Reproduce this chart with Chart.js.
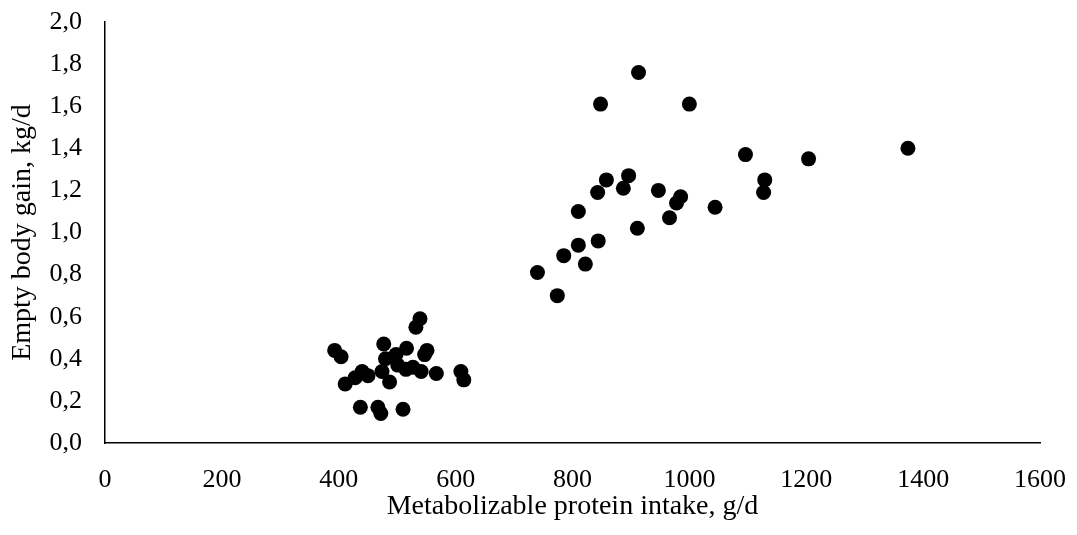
<!DOCTYPE html>
<html>
<head>
<meta charset="utf-8">
<script src="https://cdn.jsdelivr.net/npm/chart.js@4"></script>
<style>
    html, body { margin: 0; padding: 0; background: #fff; }
    #wrap { width: 1077px; height: 535px; position: relative; }
</style>
</head>
<body>
<div id="wrap"><canvas id="scatter"></canvas></div>
<script>
// metabolizable protein intake (g/d) and empty body gain (kg/d)
const mpIntake = [
    393, 404, 411, 428, 437, 440, 450, 467, 472, 474,
    477, 480, 487, 498, 501, 510, 516, 515, 527, 532,
    539, 541, 547, 551, 567, 609, 614,
    913, 848, 1000, 858, 896, 887, 843, 947, 985, 978,
    1044, 810, 966, 911, 844, 810, 785, 822, 740, 774,
    1096, 1204, 1374, 1129, 1127,
]
const ebGain = [
    0.44, 0.41, 0.28, 0.31, 0.17, 0.34, 0.32, 0.17, 0.14, 0.34,
    0.47, 0.40, 0.29, 0.42, 0.37, 0.16, 0.45, 0.35, 0.36, 0.55,
    0.59, 0.34, 0.42, 0.44, 0.33, 0.34, 0.30,
    1.76, 1.61, 1.61, 1.25, 1.27, 1.21, 1.19, 1.20, 1.17, 1.14,
    1.12, 1.10, 1.07, 1.02, 0.96, 0.94, 0.89, 0.85, 0.81, 0.70,
    1.37, 1.35, 1.40, 1.25, 1.19,
]

const xTicks = [0, 200, 400, 600, 800, 1000, 1200, 1400, 1600]
const yTicks = [0, 0.2, 0.4, 0.6, 0.8, 1.0, 1.2, 1.4, 1.6, 1.8, 2.0]

const xTitle = 'Metabolizable protein intake, g/d'
const yTitle = 'Empty body gain, kg/d'

const FONT = '"Liberation Serif", "Times New Roman", serif'

const points = mpIntake.map((x, i) => ({ x, y: ebGain[i] }))

new Chart(document.getElementById('scatter'), {
    type: 'scatter',
    data: {
        datasets: [{
            data: points,
            backgroundColor: '#000',
            borderWidth: 0,
            pointRadius: 7.5,
            pointHoverRadius: 7.5,
        }]
    },
    options: {
        responsive: true,
        maintainAspectRatio: false,
        animation: false,
        layout: { padding: { left: 0, top: 22, right: 37, bottom: 0 } },
        plugins: {
            legend: { display: false },
            tooltip: { enabled: false },
        },
        scales: {
            x: {
                type: 'linear',
                min: xTicks[0],
                max: xTicks[xTicks.length - 1],
                afterBuildTicks: s => { s.ticks = xTicks.map(v => ({ value: v })) },
                // pin the plot box, labels may spill into the margins
                afterFit: s => { s.height = 92; s.paddingLeft = 0; s.paddingRight = 0 },
                grid: { display: false, drawTicks: false },
                border: { display: true, color: '#000', width: 1.5 },
                ticks: {
                    color: '#000',
                    font: { family: FONT, size: 26 },
                    padding: 22,
                    maxRotation: 0,
                    callback: v => String(v),
                },
                title: {
                    display: true,
                    text: xTitle,
                    color: '#000',
                    font: { family: FONT, size: 28 },
                    padding: { top: 0, bottom: 12 },
                },
            },
            y: {
                type: 'linear',
                min: yTicks[0],
                max: yTicks[yTicks.length - 1],
                afterBuildTicks: s => { s.ticks = yTicks.map(v => ({ value: v })) },
                afterFit: s => { s.width = 105; s.paddingTop = 0; s.paddingBottom = 0 },
                grid: { display: false, drawTicks: false },
                border: { display: true, color: '#000', width: 1.5 },
                ticks: {
                    color: '#000',
                    font: { family: FONT, size: 26 },
                    padding: 23,
                    callback: v => Number(v).toFixed(1).replace('.', ','),
                },
                title: {
                    display: true,
                    text: yTitle,
                    color: '#000',
                    font: { family: FONT, size: 28 },
                    padding: { top: 6, bottom: 0 },
                },
            },
        },
    },
})
</script>
</body>
</html>
